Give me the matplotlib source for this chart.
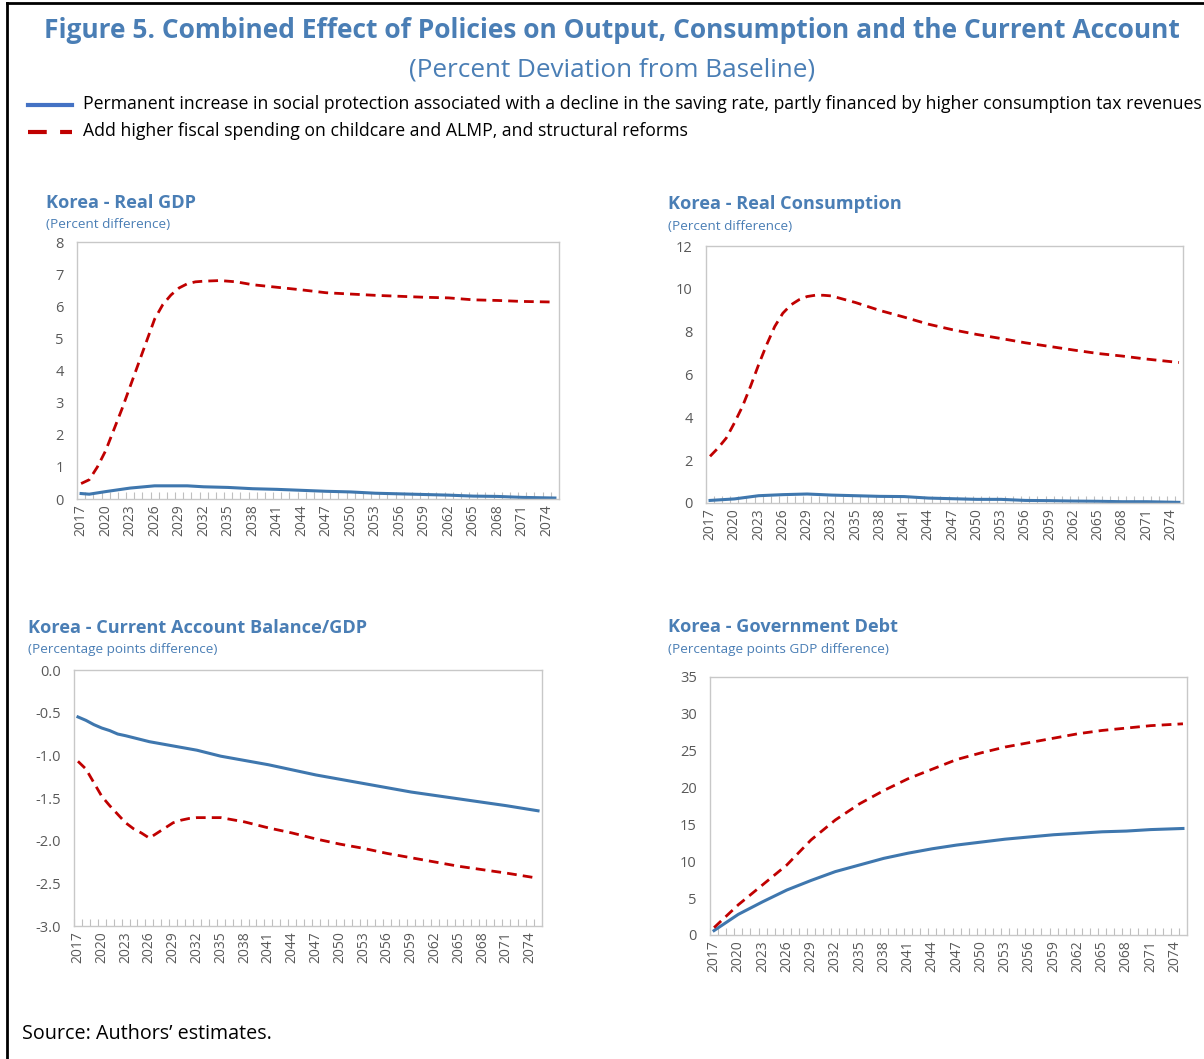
#plot.py
#Combined effect of policies on output, consumption and the current account (Korea)

import matplotlib.pyplot as plt
from matplotlib.lines import Line2D
from matplotlib.ticker import MultipleLocator

plt.rcParams['font.family'] = ['Open Sans', 'DejaVu Sans']
plt.rcParams['axes.unicode_minus'] = False

blue = '#3F77AE'
red = '#C00000'
titleCol = '#4A7EB5'
grey = '#595959'

label1 = "Permanent increase in social protection associated with a decline in the saving rate, partly financed by higher consumption tax revenues"
label2 = "Add higher fiscal spending on childcare and ALMP, and structural reforms"

# Real GDP
gdpYearsRed = [2017, 2018, 2019, 2020, 2021, 2022, 2023, 2024, 2025, 2026, 2027, 2028, 2029, 2030,
               2031, 2032, 2034, 2036, 2038, 2041, 2044, 2047, 2050, 2053, 2056, 2059, 2062, 2065,
               2068, 2071, 2075]
gdpRed = [0.48, 0.6, 1.0, 1.5, 2.15, 2.8, 3.5, 4.2, 4.9, 5.6, 6.05, 6.35, 6.57, 6.7,
          6.76, 6.78, 6.8, 6.76, 6.67, 6.59, 6.51, 6.42, 6.38, 6.34, 6.31, 6.28, 6.26, 6.2,
          6.18, 6.15, 6.13]
gdpYearsBlue = [2017, 2018, 2020, 2023, 2026, 2029, 2030, 2032, 2035, 2038, 2041, 2044, 2047,
                2050, 2053, 2056, 2059, 2062, 2065, 2068, 2071, 2075]
gdpBlue = [0.17, 0.15, 0.23, 0.34, 0.41, 0.41, 0.41, 0.38, 0.36, 0.32, 0.3, 0.27, 0.24,
           0.22, 0.18, 0.16, 0.14, 0.12, 0.09, 0.08, 0.05, 0.03]

# Real consumption
conYearsRed = [2017, 2018, 2019, 2020, 2021, 2022, 2023, 2024, 2025, 2026, 2027, 2028, 2029, 2030,
               2031, 2032, 2035, 2038, 2041, 2044, 2047, 2050, 2053, 2056, 2059, 2062, 2065,
               2068, 2071, 2075]
conRed = [2.18, 2.57, 3.03, 3.73, 4.5, 5.44, 6.45, 7.39, 8.24, 8.86, 9.25, 9.49, 9.64, 9.7,
          9.7, 9.67, 9.36, 8.99, 8.68, 8.35, 8.09, 7.87, 7.68, 7.48, 7.31, 7.14, 6.98,
          6.86, 6.72, 6.56]
conYearsBlue = [2017, 2020, 2023, 2026, 2029, 2032, 2035, 2038, 2041, 2044, 2047, 2050, 2053,
                2056, 2059, 2062, 2065, 2068, 2071, 2075]
conBlue = [0.12, 0.19, 0.34, 0.39, 0.42, 0.37, 0.34, 0.31, 0.3, 0.23, 0.2, 0.17, 0.17,
           0.12, 0.11, 0.09, 0.08, 0.06, 0.06, 0.03]

# Current account balance / GDP
caYearsBlue = [2017, 2018, 2019, 2020, 2021, 2022, 2023, 2026, 2029, 2032, 2035, 2038, 2041,
               2044, 2047, 2050, 2053, 2056, 2059, 2062, 2065, 2068, 2071, 2075]
caBlue = [-0.55, -0.59, -0.64, -0.68, -0.71, -0.75, -0.77, -0.84, -0.89, -0.94, -1.01, -1.06, -1.11,
          -1.17, -1.23, -1.28, -1.33, -1.38, -1.43, -1.47, -1.51, -1.55, -1.59, -1.65]
caYearsRed = [2017, 2018, 2019, 2020, 2021, 2022, 2023, 2024, 2025, 2026, 2027, 2028, 2029, 2030,
              2031, 2032, 2034, 2035, 2038, 2041, 2044, 2047, 2050, 2053, 2056, 2059, 2062,
              2065, 2068, 2071, 2075]
caRed = [-1.07, -1.16, -1.32, -1.48, -1.59, -1.69, -1.79, -1.86, -1.91, -1.97, -1.91, -1.85, -1.79, -1.76,
         -1.74, -1.73, -1.73, -1.73, -1.78, -1.85, -1.91, -1.98, -2.04, -2.09, -2.15, -2.2, -2.25,
         -2.3, -2.34, -2.38, -2.44]

# Government debt
debtYears = [2017, 2020, 2023, 2026, 2029, 2032, 2035, 2038, 2041, 2044, 2047, 2050, 2053,
             2056, 2059, 2062, 2065, 2068, 2071, 2075]
debtBlue = [0.6, 2.8, 4.5, 6.1, 7.4, 8.6, 9.5, 10.4, 11.1, 11.7, 12.2, 12.6, 13.0,
            13.3, 13.6, 13.8, 14.0, 14.1, 14.3, 14.45]
debtRed = [1.0, 4.1, 6.8, 9.5, 12.9, 15.6, 17.8, 19.6, 21.2, 22.5, 23.8, 24.7, 25.5,
           26.1, 26.7, 27.3, 27.75, 28.07, 28.4, 28.65]

tickYears = list(range(2017, 2075, 3))

fig = plt.figure(figsize=(12.04, 10.59), dpi=100)

W = 1204
H = 1059


def box(left, top, right, bottom):
    return [left / W, 1 - bottom / H, (right - left) / W, (bottom - top) / H]


def panel(rect, title, sub, titlePos, yb, rr, ymin, ymax, ystep, fmt):
    ax = fig.add_axes(rect)
    ax.plot(yb[0], yb[1], color=blue, lw=2.2)
    ax.plot(rr[0], rr[1], color=red, lw=2.0, dashes=(3.5, 2.2))
    ax.set_xlim(2016.5, 2075.5)
    ax.set_ylim(ymin, ymax)
    ax.yaxis.set_major_locator(MultipleLocator(ystep))
    ax.yaxis.set_major_formatter(fmt)
    ax.set_xticks(tickYears)
    ax.set_xticklabels([str(y) for y in tickYears], rotation=90)
    ax.set_xticks([y + 0.5 for y in range(2016, 2075)], minor=True)
    ax.tick_params(axis='x', which='major', length=0, labelsize=10, colors=grey, pad=4)
    ax.tick_params(axis='x', which='minor', direction='in', length=5, color='#BFBFBF', width=0.8)
    ax.tick_params(axis='y', length=0, labelsize=10.5, colors=grey, pad=9.5)
    for s in ax.spines.values():
        s.set_color('#C8C8C8')
        s.set_linewidth(1.0)
    fig.text(titlePos[0] / W, 1 - titlePos[1] / H, title, fontsize=13.1, fontweight='bold',
             color=titleCol, va='center', ha='left')
    fig.text(titlePos[0] / W, 1 - (titlePos[1] + 22) / H, sub, fontsize=9.7,
             color=titleCol, va='center', ha='left')
    return ax


panel(box(77, 242, 559, 499), "Korea - Real GDP", "(Percent difference)", (46, 203),
      (gdpYearsBlue, gdpBlue), (gdpYearsRed, gdpRed), 0, 8, 1, '{x:.0f}')
panel(box(706, 246, 1183, 503), "Korea - Real Consumption", "(Percent difference)", (668, 204),
      (conYearsBlue, conBlue), (conYearsRed, conRed), 0, 12, 2, '{x:.0f}')
panel(box(74, 670, 542, 926), "Korea - Current Account Balance/GDP", "(Percentage points difference)",
      (28, 628), (caYearsBlue, caBlue), (caYearsRed, caRed), -3, 0, 0.5, '{x:.1f}')
panel(box(710, 677, 1187, 935), "Korea - Government Debt", "(Percentage points GDP difference)",
      (668, 627), (debtYears, debtBlue), (debtYears, debtRed), 0, 35, 5, '{x:.0f}')

fig.text(612 / W, 1 - 31 / H,
         "Figure 5. Combined Effect of Policies on Output, Consumption and the Current Account",
         fontsize=19.0, fontweight='bold', color=titleCol, ha='center', va='center')
fig.text(612 / W, 1 - 70 / H, "(Percent Deviation from Baseline)", fontsize=18.8,
         color=titleCol, ha='center', va='center')

# legend drawn by hand to sit where the reference has it
fig.add_artist(Line2D([28 / W, 72 / W], [1 - 105 / H, 1 - 105 / H], color='#4472C4', lw=3))
fig.add_artist(Line2D([28 / W, 72 / W], [1 - 132 / H, 1 - 132 / H], color=red, lw=3,
                      dashes=(4.5, 3.2)))
fig.text(83 / W, 1 - 104 / H, label1, fontsize=12.72, ha='left', va='center')
fig.text(83 / W, 1 - 131 / H, label2, fontsize=12.72, ha='left', va='center')

fig.text(22 / W, 1 - 1034 / H, "Source: Authors\u2019 estimates.", fontsize=14.2, color='black',
         ha='left', va='center')

# frame round the figure (left and top)
fig.add_artist(Line2D([7 / W, 7 / W], [0, 1 - 3 / H], color='black', lw=2))
fig.add_artist(Line2D([7 / W, 1], [1 - 3 / H, 1 - 3 / H], color='black', lw=2))

plt.savefig("out.png", dpi=100)
